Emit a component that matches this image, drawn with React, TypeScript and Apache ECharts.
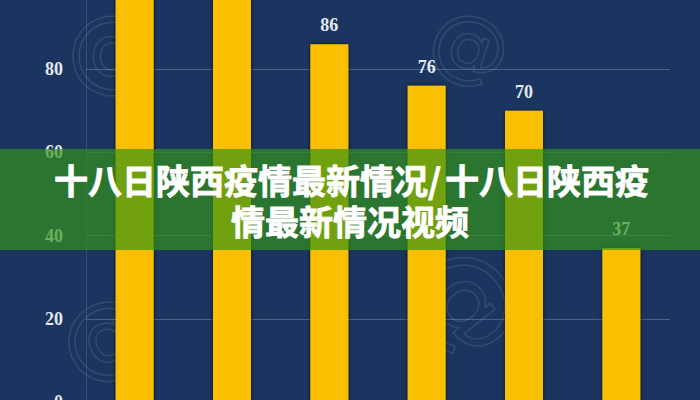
import { useEffect, useRef } from 'react';
import * as echarts from 'echarts';

const categories = ['A', 'B', 'C', 'D', 'E', 'F'];
const values = [112, 104, 86, 76, 70, 37];
const yTicks = { min: 0, max: 100, interval: 20 };
// first line is drawn in two pieces so its slash gap matches
const titleParts = ['十八日陕西疫情最新情况/', '十八日陕西疫'];
const titleLine2 = '情最新情况视频';

const NAVY = '#1b3560';
const YELLOW = '#f9bf00';
const LABEL = '#e4eaf2';
const SERIF = '"Liberation Serif", "DejaVu Serif", serif';

const App = () => {
    const chartRef = useRef<HTMLDivElement>(null);

    useEffect(() => {
        if (!chartRef.current) return;
        const chart = echarts.init(chartRef.current, undefined, { renderer: 'svg' });

        // faint "@" watermarks behind the bars
        const mark = (x: number, y: number, size: number, rotation = 0) => ({
            type: 'text',
            x,
            y,
            rotation,
            silent: true,
            z: 1,
            style: {
                text: '@',
                fontSize: size,
                fontFamily: 'DejaVu Sans',
                fill: 'none',
                stroke: 'rgba(255,255,255,0.1)',
                lineWidth: 1.5,
                textAlign: 'center',
                textVerticalAlign: 'middle'
            }
        });

        const titleText = (text: string, x: number, y: number, align: string) => ({
            type: 'text',
            silent: true,
            z: 101,
            x,
            y,
            style: {
                text,
                fill: '#ffffff',
                stroke: '#ffffff',
                lineWidth: 0.8,
                fontSize: 34,
                fontWeight: 'bold',
                fontFamily: '"Noto Sans CJK SC", sans-serif',
                textAlign: align,
                textVerticalAlign: 'middle'
            }
        });

        chart.setOption({
            animation: false,
            backgroundColor: NAVY,
            grid: {
                left: 86,
                right: 30,
                top: -14,
                bottom: -2,
                containLabel: false,
                outerBoundsMode: 'none'
            },
            xAxis: {
                type: 'category',
                data: categories,
                axisLine: { show: false },
                axisTick: { show: false },
                axisLabel: { show: false }
            },
            yAxis: {
                type: 'value',
                min: yTicks.min,
                max: yTicks.max,
                interval: yTicks.interval,
                axisLine: { show: true, lineStyle: { color: 'rgba(255,255,255,0.12)', width: 1 } },
                axisTick: { show: false },
                splitLine: { lineStyle: { color: 'rgba(255,255,255,0.22)', width: 1 } },
                axisLabel: {
                    color: LABEL,
                    fontFamily: SERIF,
                    fontWeight: 'bold',
                    fontSize: 18,
                    margin: 23,
                    showMaxLabel: false
                }
            },
            series: [
                {
                    type: 'bar',
                    data: values.map(v => ({ value: v, label: { show: v <= yTicks.max } })),
                    barWidth: 38,
                    itemStyle: {
                        color: YELLOW,
                        shadowColor: 'rgba(0,0,0,0.65)',
                        shadowBlur: 4
                    },
                    label: {
                        show: true,
                        position: 'top',
                        distance: 10,
                        color: LABEL,
                        fontFamily: SERIF,
                        fontWeight: 'bold',
                        fontSize: 18
                    }
                }
            ],
            graphic: [
                mark(112, 48, 90),
                mark(470, 45, 80, -0.3),
                mark(105, 335, 90, 0.4),
                mark(470, 300, 110, -0.9),
                {
                    type: 'rect',
                    silent: true,
                    z: 100,
                    shape: { x: 0, y: 149, width: 700, height: 101 },
                    style: { fill: 'rgba(50,148,24,0.68)' }
                },
                titleText(titleParts[0], 54, 179, 'left'),
                titleText(titleParts[1], 649, 179, 'right'),
                titleText(titleLine2, 350, 220, 'center')
            ]
        });

        return () => chart.dispose();
    }, []);

    return (
        <div
            ref={chartRef}
            style={{ position: 'fixed', left: 0, top: 0, width: 700, height: 400 }}
        />
    );
};

export default App;
